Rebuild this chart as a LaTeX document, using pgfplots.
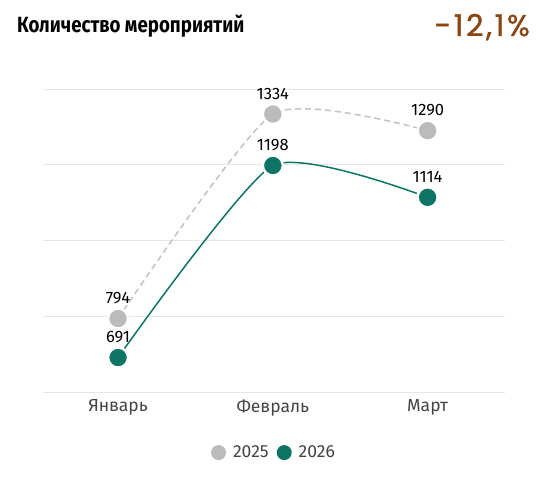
\documentclass[border=0pt]{standalone}
\usepackage{fontspec}
\setmainfont{Fira Sans}
\newfontfamily\titlefont[FakeStretch=0.85]{Fira Sans}
\newfontfamily\pctfont[FakeBold=1.2, LetterSpace=9]{Poppins}
\usepackage{pgfplots}
\pgfplotsset{compat=1.18}

\definecolor{gridc}{HTML}{E6E6E6}
\definecolor{old}{HTML}{BCBBBC}
\definecolor{oldline}{HTML}{C2C2C2}
\definecolor{new}{HTML}{0E7566}
\definecolor{pctc}{HTML}{8B4513}
\definecolor{tickc}{HTML}{444444}

\begin{document}
\begin{tikzpicture}[x=1pt,y=1pt]
  \begin{axis}[
      scale only axis, width=462pt, height=303pt,
      xmin=-0.485, xmax=2.5,
      ymin=600, ymax=1400,
      ytick={600,800,...,1400}, yticklabels={},
      ymajorgrids, grid style={gridc, line width=0.8pt},
      axis line style={draw=none},
      xtick={0,1,2}, xticklabels={Январь,Февраль,Март},
      major tick length=0pt,
      tick label style={font=\fontsize{17.5}{19}\selectfont, text=tickc},
      xticklabel style={yshift=-4pt},
      clip=false,
      /pgf/number format/.cd, 1000 sep={}, assume math mode=true, /pgfplots/.cd,
      nodes near coords,
      every node near coord/.append style={font=\fontsize{16.5}{18}\selectfont,
        text=black, anchor=base, inner sep=0pt, yshift=15pt},
      legend style={at={(0.5,-0.2)}, anchor=center, draw=none,
        legend columns=2, font=\fontsize{17.5}{19}\selectfont, text=tickc,
        /tikz/every odd column/.append style={column sep=5pt},
        /tikz/every even column/.append style={column sep=6pt},
        inner sep=0pt},
    ]
    \coordinate (sw) at (rel axis cs:0,0);
    \addplot[oldline, dashed, dash pattern=on 6pt off 4pt, line width=1.5pt,
      smooth, tension=0.35,
      mark=*, mark size=10pt,
      mark options={solid, draw=white, line width=2.4pt, fill=old},
      legend image code/.code={\fill[solid, draw=none, old] (4pt,0pt) circle (7.5pt);}]
      coordinates {(0,794) (1,1334) (2,1290)};
    \addplot[new, line width=1.5pt,
      smooth, tension=0.35,
      mark=*, mark size=10pt,
      mark options={draw=white, line width=2.4pt, fill=new},
      legend image code/.code={\fill[solid, draw=none, new] (4pt,0pt) circle (7.5pt);}]
      coordinates {(0,691) (1,1198) (2,1114)};
    \legend{2025,2026}
  \end{axis}
  \begin{scope}[shift={(sw)}]
    \path[use as bounding box] (-43,-103) rectangle (510,392);
    \node[anchor=base west, inner sep=0] at (-26,359)
      {\titlefont\bfseries\fontsize{22}{26}\selectfont Количество мероприятий};
    \node[anchor=base east, inner sep=0, text=pctc] at (487,356)
      {\pctfont\fontsize{30}{34}\selectfont -12,1\%};
  \end{scope}
\end{tikzpicture}
\end{document}
